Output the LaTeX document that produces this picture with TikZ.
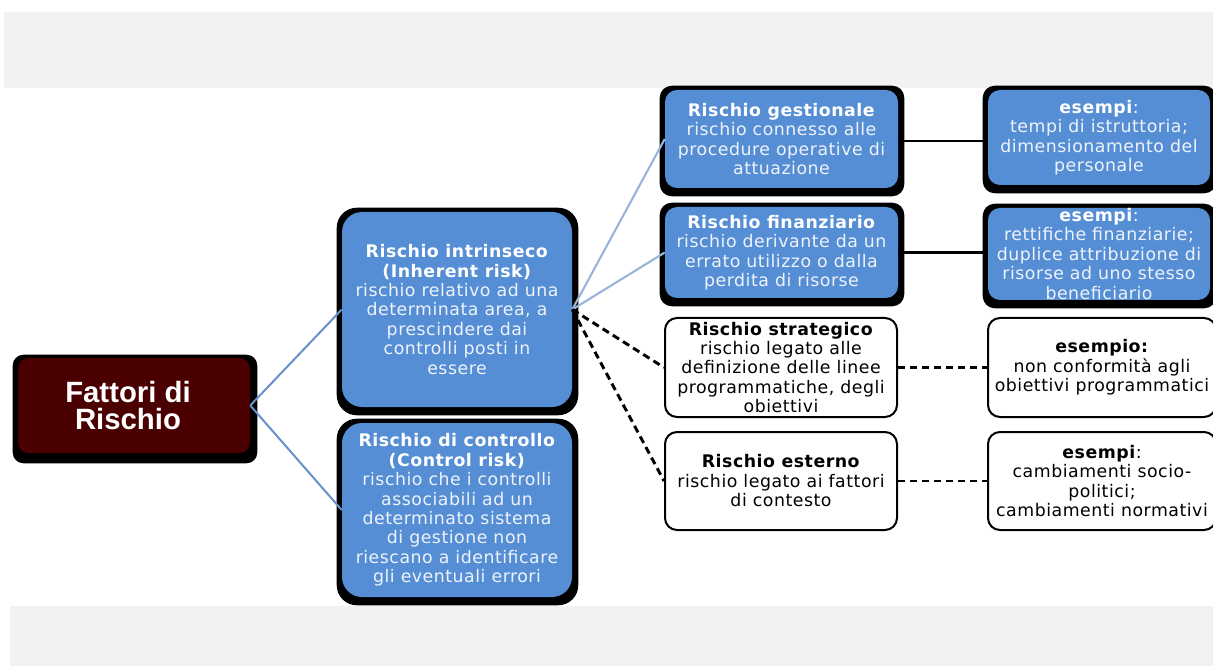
\documentclass[tikz,border=0pt]{standalone}
\usepackage{fontspec}
\setmainfont{DejaVu Sans}[LetterSpace=3]
\newfontfamily\rootfont{Liberation Sans}
\usetikzlibrary{calc}
\pgfdeclarelayer{background}
\pgfsetlayers{background,main}
\definecolor{bandgray}{HTML}{F2F2F2}
\definecolor{rootred}{HTML}{4A0000}
\definecolor{boxblue}{HTML}{558ED5}
\definecolor{linkblue}{HTML}{6790CC}
\definecolor{linklight}{HTML}{9AB5DA}
\definecolor{bodywhite}{HTML}{EEF3FA}
\newcommand\boxshadow[2][9pt]{\fill[black,rounded corners=#1] ($(#2.north west)+(-5,-4)$) rectangle ($(#2.south east)+(6,8)$);}
\tikzset{
  basebox/.style={rectangle, inner sep=0pt, align=center, font=\fontsize{13}{14.6}\selectfont},
  bluebox/.style={basebox, fill=boxblue, rounded corners=9pt, text=white},
  bigblue/.style={bluebox, rounded corners=15pt},
  whitebox/.style={basebox, fill=white, draw=black, line width=1.5pt, rounded corners=9pt, text=black},
  rootbox/.style={rectangle, inner sep=0pt, align=center, fill=rootred, rounded corners=8pt, text=white,
    font=\rootfont\bfseries\fontsize{22}{20.5}\selectfont},
  rootlink/.style={draw=linkblue, line width=1.5pt},
  lightlink/.style={draw=linklight, line width=1.6pt},
  dashlink/.style={draw=black, line width=2.2pt, dash pattern=on 5.5pt off 3.5pt},
  solidlink/.style={draw=black, line width=1.6pt}
}
\begin{document}
\begin{tikzpicture}[x=0.75pt,y=-0.75pt]
\useasboundingbox (0,0) rectangle (1213,666);
\clip (0,0) rectangle (1213,666);

% nodes
\node[rootbox, minimum width=174pt, minimum height=71.25pt] (root) at (134,405.5) {Fattori di\hspace*{9pt}\\Rischio\hspace*{9pt}};

\node[bigblue, minimum width=172.5pt, minimum height=146.25pt] (intr) at (457,309.5)
  {\textbf{Rischio intrinseco}\\\textbf{(Inherent risk)}\\\color{bodywhite}rischio relativo ad una\\\color{bodywhite}determinata area, a\\\color{bodywhite}prescindere dai\\\color{bodywhite}controlli posti in\\\color{bodywhite}essere};
\node[bigblue, minimum width=172.5pt, minimum height=130.5pt] (ctrl) at (457,510)
  {\textbf{Rischio di controllo}\\\textbf{(Control risk)}\\\color{bodywhite}rischio che i controlli\\\color{bodywhite}associabili ad un\\\color{bodywhite}determinato sistema\\\color{bodywhite}di gestione non\\\color{bodywhite}riescano a identificare\\\color{bodywhite}gli eventuali errori};

\node[bluebox, minimum width=174.75pt, minimum height=73.5pt] (gest) at (781.5,139)
  {\textbf{Rischio gestionale}\\\color{bodywhite}rischio connesso alle\\\color{bodywhite}procedure operative di\\\color{bodywhite}attuazione};
\node[bluebox, minimum width=174.75pt, minimum height=68.25pt] (fin) at (781.5,252.5)
  {\textbf{Rischio finanziario}\\\color{bodywhite}rischio derivante da un\\\color{bodywhite}errato utilizzo o dalla\\\color{bodywhite}perdita di risorse};
\node[whitebox, minimum width=174pt, minimum height=74.25pt] (strat) at (781,367.5)
  {\textbf{Rischio strategico}\\rischio legato alle\\definizione delle linee\\programmatiche, degli\\obiettivi};
\node[whitebox, minimum width=174pt, minimum height=73.5pt] (est) at (781,481)
  {\textbf{Rischio esterno}\\rischio legato ai fattori\\di contesto};

\node[bluebox, minimum width=166.5pt, minimum height=71.25pt] (ex1) at (1099,137.5)
  {\textbf{esempi}:\\\color{bodywhite}tempi di istruttoria;\\\color{bodywhite}dimensionamento del\\\color{bodywhite}personale};
\node[bluebox, minimum width=166.5pt, minimum height=69pt] (ex2) at (1099,254)
  {\textbf{esempi}:\\\color{bodywhite}rettifiche finanziarie;\\\color{bodywhite}duplice attribuzione di\\\color{bodywhite}risorse ad uno stesso\\\color{bodywhite}beneficiario};
\node[whitebox, minimum width=171pt, minimum height=74.25pt] (ex3) at (1102,367.5)
  {\textbf{esempio:}\\non conformità agli\\obiettivi programmatici};
\node[whitebox, minimum width=171pt, minimum height=73.5pt] (ex4) at (1102,481)
  {\textbf{esempi}:\\cambiamenti socio-\\politici;\\cambiamenti normativi};

% page background, bands and shadows
\begin{pgfonlayer}{background}
\fill[white] (0,0) rectangle (1213,666);
\fill[bandgray] (4,12) rectangle (1213,88);
\fill[bandgray] (10,606) rectangle (1213,666);
\fill[black,rounded corners=8pt] ($(root.north west)+(-5,-3)$) rectangle ($(root.south east)+(7,10)$);
\boxshadow[15pt]{intr}
\boxshadow[15pt]{ctrl}
\boxshadow{gest}
\boxshadow{fin}
\boxshadow{ex1}
\boxshadow{ex2}
\end{pgfonlayer}

% connectors
\draw[rootlink] (root.east) -- (intr.west);
\draw[rootlink] (root.east) -- (ctrl.west);
\draw[lightlink] (intr.east) -- (gest.west);
\draw[lightlink] (intr.east) -- (fin.west);
\draw[dashlink] (intr.east) -- (strat.west);
\draw[dashlink] (intr.east) -- (est.west);
\draw[solidlink] ($(gest.east)+(0,2)$) -- ($(gest.east -| ex1.west)+(0,2)$);
\draw[solidlink] (fin.east) -- (fin.east -| ex2.west);
\draw[dashlink] (strat.east) -- (strat.east -| ex3.west);
\draw[dashlink] (est.east) -- (est.east -| ex4.west);
\end{tikzpicture}
\end{document}
